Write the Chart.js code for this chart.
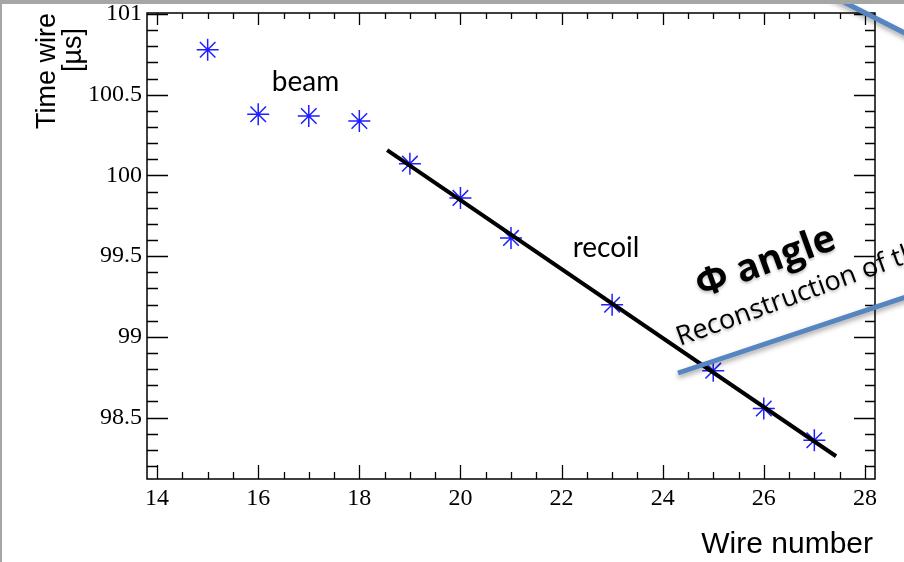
<!DOCTYPE html>
<html>
<head>
<meta charset="utf-8">
<script src="https://cdn.jsdelivr.net/npm/chart.js@4/dist/chart.umd.min.js"></script>
<style>
  html, body { margin: 0; padding: 0; background: #fff; }
  #wrap { width: 904px; height: 562px; position: relative; }
</style>
</head>
<body>
<div id="wrap"><canvas id="wireChart"></canvas></div>
<script>
// measured hits: wire number vs drift time
const wires = [15, 16, 17, 18, 19, 20, 21, 23, 25, 26, 27];
const times = [100.778, 100.379, 100.368, 100.337, 100.073, 99.861, 99.613, 99.199, 98.791, 98.557, 98.360];

// straight-line fit over the recoil hits
const fitX = [18.55, 27.43];
const fitY = [100.157, 98.261];

const xTicks = [14, 16, 18, 20, 22, 24, 26, 28];
const yTicks = [98.5, 99, 99.5, 100, 100.5, 101];

const xRange = [13.8, 28.2];
const yRange = [98.12, 101.006];

const notes = [
    { text: "beam", x: 16.27, y: 100.52 },
    { text: "recoil", x: 22.22, y: 99.497 }
];

const serif = "'Liberation Serif', 'DejaVu Serif', serif";
const sans = "'Liberation Sans', Arial, sans-serif";

// ROOT style frame with inward ticks on all four sides
const framePlugin = {
    id: "frame",
    afterDraw(chart){
        const ctx = chart.ctx;
        const a = chart.chartArea;
        const xs = chart.scales.x;
        const ys = chart.scales.y;

        ctx.save();
        ctx.strokeStyle = "#000";
        ctx.lineWidth = 1.5;
        ctx.strokeRect(a.left, a.top, a.right - a.left, a.bottom - a.top);

        ctx.lineWidth = 1.3;
        ctx.beginPath();
        for(let i = 0; i <= 28; i++){
            const v = 14 + i * 0.5;
            const px = Math.round(xs.getPixelForValue(v)) + 0.5;
            const major = i % 4 === 0;
            const lb = major ? 14 : 7;
            const lt = major ? 12 : 6;
            ctx.moveTo(px, a.bottom); ctx.lineTo(px, a.bottom - lb);
            ctx.moveTo(px, a.top); ctx.lineTo(px, a.top + lt);
        }
        for(let i = 0; i <= 28; i++){
            const v = 98.2 + i * 0.1;
            const py = Math.round(ys.getPixelForValue(v)) + 0.5;
            const major = (i + 2) % 5 === 0;
            const ll = major ? 21 : 11;
            const lr = major ? 21 : 10;
            ctx.moveTo(a.left, py); ctx.lineTo(a.left + ll, py);
            ctx.moveTo(a.right, py); ctx.lineTo(a.right - lr, py);
        }
        ctx.stroke();

        // axis titles
        ctx.fillStyle = "#000";
        ctx.font = "30px " + sans;
        ctx.textAlign = "right";
        ctx.textBaseline = "alphabetic";
        ctx.fillText("Wire number", 873, 553);

        ctx.font = "27px " + sans;
        ctx.save();
        ctx.translate(55, 13);
        ctx.rotate(-Math.PI / 2);
        ctx.fillText("Time wire", 0, 0);
        ctx.restore();
        ctx.save();
        ctx.translate(81, 50);
        ctx.rotate(-Math.PI / 2);
        ctx.textAlign = "center";
        ctx.fillText("[\u00b5s]", 0, 0);
        ctx.restore();

        // labels inside the plot
        ctx.font = "28px Lato, 'Open Sans', sans-serif";
        ctx.textAlign = "left";
        notes.forEach(n => {
            ctx.fillText(n.text, xs.getPixelForValue(n.x), ys.getPixelForValue(n.y));
        });

        // slide overlay: blue strokes and tilted caption
        ctx.strokeStyle = "#5586c2";
        ctx.lineWidth = 5;
        ctx.shadowColor = "rgba(0,0,0,0.35)";
        ctx.shadowBlur = 5;
        ctx.shadowOffsetY = 3;
        ctx.beginPath();
        ctx.moveTo(678, 373); ctx.lineTo(960, 279);
        ctx.moveTo(826, -7); ctx.lineTo(960, 61);
        ctx.stroke();

        ctx.shadowColor = "rgba(0,0,0,0.25)";
        ctx.shadowBlur = 3;
        ctx.shadowOffsetY = 2;
        ctx.save();
        ctx.translate(701, 298);
        ctx.rotate(-20 * Math.PI / 180);
        ctx.font = "bold 38px 'Open Sans', sans-serif";
        ctx.fillText("\u03a6 angle", 0, 0);
        ctx.restore();
        ctx.save();
        ctx.translate(680, 346);
        ctx.rotate(-20 * Math.PI / 180);
        ctx.font = "27px 'Open Sans', sans-serif";
        ctx.fillText("Reconstruction of the", 0, 0);
        ctx.restore();

        ctx.shadowColor = "transparent";
        // grey slide border
        ctx.fillStyle = "#a6a6a6";
        ctx.fillRect(0, 0, chart.width, 4);
        ctx.fillRect(0, 0, 2, chart.height);
        ctx.restore();
    }
};

new Chart(
    document.getElementById("wireChart"),
    {
        type: "scatter",
        data: {
            datasets: [
                {
                    label: "fit",
                    data: fitX.map((x, i) => ({ x: x, y: fitY[i] })),
                    showLine: true,
                    borderColor: "#000",
                    borderWidth: 4,
                    pointRadius: 0,
                    order: 0
                },
                {
                    label: "hits",
                    data: wires.map((w, i) => ({ x: w, y: times[i] })),
                    pointStyle: "star",
                    pointRadius: 11,
                    pointBorderWidth: 1.5,
                    borderColor: "#1f1fff",
                    backgroundColor: "#1f1fff",
                    order: 1
                }
            ]
        },
        options: {
            responsive: true,
            maintainAspectRatio: false,
            animation: false,
            events: [],
            layout: { padding: { top: 13, right: 29, left: 0, bottom: 0 } },
            plugins: {
                legend: { display: false },
                tooltip: { enabled: false }
            },
            scales: {
                x: {
                    type: "linear",
                    min: xRange[0],
                    max: xRange[1],
                    afterBuildTicks: s => { s.ticks = xTicks.map(v => ({ value: v })); },
                    afterFit: s => { s.height = 83; s.paddingLeft = 0; s.paddingRight = 0; },
                    grid: { display: false, drawTicks: false },
                    border: { display: false },
                    ticks: {
                        autoSkip: false,
                        maxRotation: 0,
                        padding: 5,
                        color: "#000",
                        font: { family: serif, size: 24 },
                        callback: v => String(v)
                    }
                },
                y: {
                    type: "linear",
                    min: yRange[0],
                    max: yRange[1],
                    afterBuildTicks: s => { s.ticks = yTicks.map(v => ({ value: v })); },
                    afterFit: s => { s.width = 147; s.paddingTop = 0; s.paddingBottom = 0; },
                    grid: { display: false, drawTicks: false },
                    border: { display: false },
                    ticks: {
                        autoSkip: false,
                        padding: 5,
                        color: "#000",
                        font: { family: serif, size: 24 },
                        callback: v => String(v)
                    }
                }
            }
        },
        plugins: [framePlugin]
    }
);
</script>
</body>
</html>
